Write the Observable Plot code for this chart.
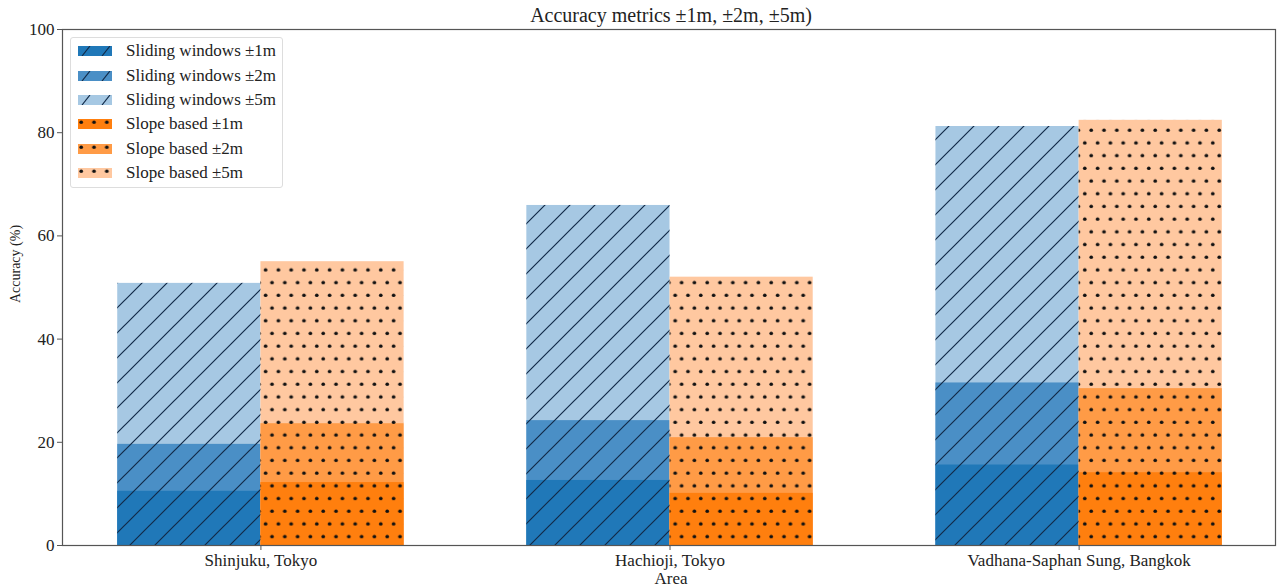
<!DOCTYPE html>
<html>
<head>
<meta charset="utf-8">
<script src="https://cdn.jsdelivr.net/npm/d3@7"></script>
<script src="https://cdn.jsdelivr.net/npm/@observablehq/plot@0.6"></script>
<style>
  body { margin: 0; background: #fff; font-family: "Liberation Serif", "DejaVu Serif", serif; color: #222; }
  #wrap { position: relative; width: 1278px; height: 588px; }
  #chart { position: absolute; left: 0; top: 0; }
  #title { position: absolute; left: 671px; top: 15px; transform: translate(-50%, -50%); font-size: 20px; white-space: nowrap; }
  #legend { position: absolute; left: 70px; top: 37px; width: 211px; padding: 1px 0 2px 0; background: rgba(255,255,255,0.85); border: 1px solid #ddd; border-radius: 3px; }
  .lrow { display: flex; align-items: center; height: 24.4px; font-size: 17px; }
  .lrow svg { margin-left: 7px; margin-right: 14px; }
  #ylab { position: absolute; left: 16px; top: 264px; transform: translate(-50%, -50%) rotate(-90deg); font-size: 14px; white-space: nowrap; }
  #xlab { position: absolute; left: 671px; top: 579px; transform: translate(-50%, -50%); font-size: 17px; }
</style>
</head>
<body>
<svg width="0" height="0" style="position:absolute">
  <defs>
    <pattern id="hatch" patternUnits="userSpaceOnUse" width="25" height="25">
      <path d="M0,25 L25,0 M-6.25,6.25 L6.25,-6.25 M18.75,31.25 L31.25,18.75" stroke="#112a48" stroke-width="1.2" fill="none"/>
    </pattern>
    <pattern id="hatchLegend" patternUnits="userSpaceOnUse" width="20" height="10" x="3">
      <path d="M1,10 L9,0" stroke="#112a48" stroke-width="1.2" fill="none"/>
    </pattern>
    <pattern id="dots" patternUnits="userSpaceOnUse" width="12.8" height="25.4">
      <circle cx="3.2" cy="3.2" r="1.8" fill="#111"/>
      <circle cx="9.6" cy="15.9" r="1.8" fill="#111"/>
    </pattern>
  </defs>
</svg>
<div id="wrap">
  <div id="chart"></div>
  <div id="title">Accuracy metrics ±1m, ±2m, ±5m)</div>
  <div id="legend"></div>
  <div id="ylab">Accuracy (%)</div>
  <div id="xlab">Area</div>
</div>
<script>
const areas = ["Shinjuku, Tokyo", "Hachioji, Tokyo", "Vadhana-Saphan Sung, Bangkok"];
const sliding1 = [10.5, 12.6, 15.6];
const sliding2 = [19.6, 24.2, 31.5];
const sliding5 = [50.8, 65.9, 81.2];
const slope1 = [12.2, 10.1, 14.1];
const slope2 = [23.6, 20.9, 30.4];
const slope5 = [55.0, 52.0, 82.4];
const yTicks = [0, 20, 40, 60, 80, 100];
const seriesNames = ["Sliding windows ±1m", "Sliding windows ±2m", "Sliding windows ±5m",
                     "Slope based ±1m", "Slope based ±2m", "Slope based ±5m"];
const seriesColors = ["#2078b8", "#4a8fc6", "#a6c8e3", "#ff7f0e", "#ff9b46", "#ffc8a0"];

const barW = 0.35;
// drawing order: ±5m first (tallest), then ±2m, then ±1m on top
const series = [
  {method: "sw", values: sliding5, color: seriesColors[2]},
  {method: "sw", values: sliding2, color: seriesColors[1]},
  {method: "sw", values: sliding1, color: seriesColors[0]},
  {method: "sl", values: slope5, color: seriesColors[5]},
  {method: "sl", values: slope2, color: seriesColors[4]},
  {method: "sl", values: slope1, color: seriesColors[3]}
];
const rows = [];
series.forEach(s => s.values.forEach((v, i) => rows.push({i, method: s.method, value: v, color: s.color})));
const tops = [];
areas.forEach((a, i) => {
  tops.push({i, method: "sw", value: Math.max(sliding1[i], sliding2[i], sliding5[i])});
  tops.push({i, method: "sl", value: Math.max(slope1[i], slope2[i], slope5[i])});
});
const x1 = d => d.i + (d.method === "sw" ? -barW : 0);
const x2 = d => d.i + (d.method === "sw" ? 0 : barW);

const plot = Plot.plot({
  width: 1278,
  height: 588,
  marginTop: 29,
  marginBottom: 43,
  marginLeft: 62,
  marginRight: 3,
  style: {fontFamily: "Liberation Serif, DejaVu Serif, serif", fontSize: "17px", color: "#222", background: "transparent"},
  x: {domain: [-0.485, 2.48]},
  y: {domain: [0, 100]},
  color: {type: "identity"},
  marks: [
    Plot.rectY(rows, {x1, x2, y1: 0, y2: "value", fill: "color"}),
    Plot.rectY(tops.filter(d => d.method === "sw"), {x1, x2, y1: 0, y2: "value", fill: "url(#hatch)"}),
    Plot.rectY(tops.filter(d => d.method === "sl"), {x1, x2, y1: 0, y2: "value", fill: "url(#dots)"}),
    Plot.frame({stroke: "#555", strokeWidth: 1.2}),
    Plot.axisX({ticks: [0, 1, 2], tickFormat: i => areas[i], tickSize: 5, tickPadding: 3, label: null, stroke: "#555"}),
    Plot.axisY({ticks: yTicks, tickSize: 5, tickPadding: 3, label: null, stroke: "#555"})
  ]
});
document.getElementById("chart").appendChild(plot);

// legend
const legend = document.getElementById("legend");
seriesNames.forEach((name, k) => {
  const row = document.createElement("div");
  row.className = "lrow";
  const pat = k < 3 ? "url(#hatchLegend)" : "url(#dots)";
  row.innerHTML = `<svg width="34" height="10"><rect width="34" height="10" fill="${seriesColors[k]}"/><rect width="34" height="10" fill="${pat}"/></svg><span>${name}</span>`;
  legend.appendChild(row);
});
</script>
</body>
</html>
